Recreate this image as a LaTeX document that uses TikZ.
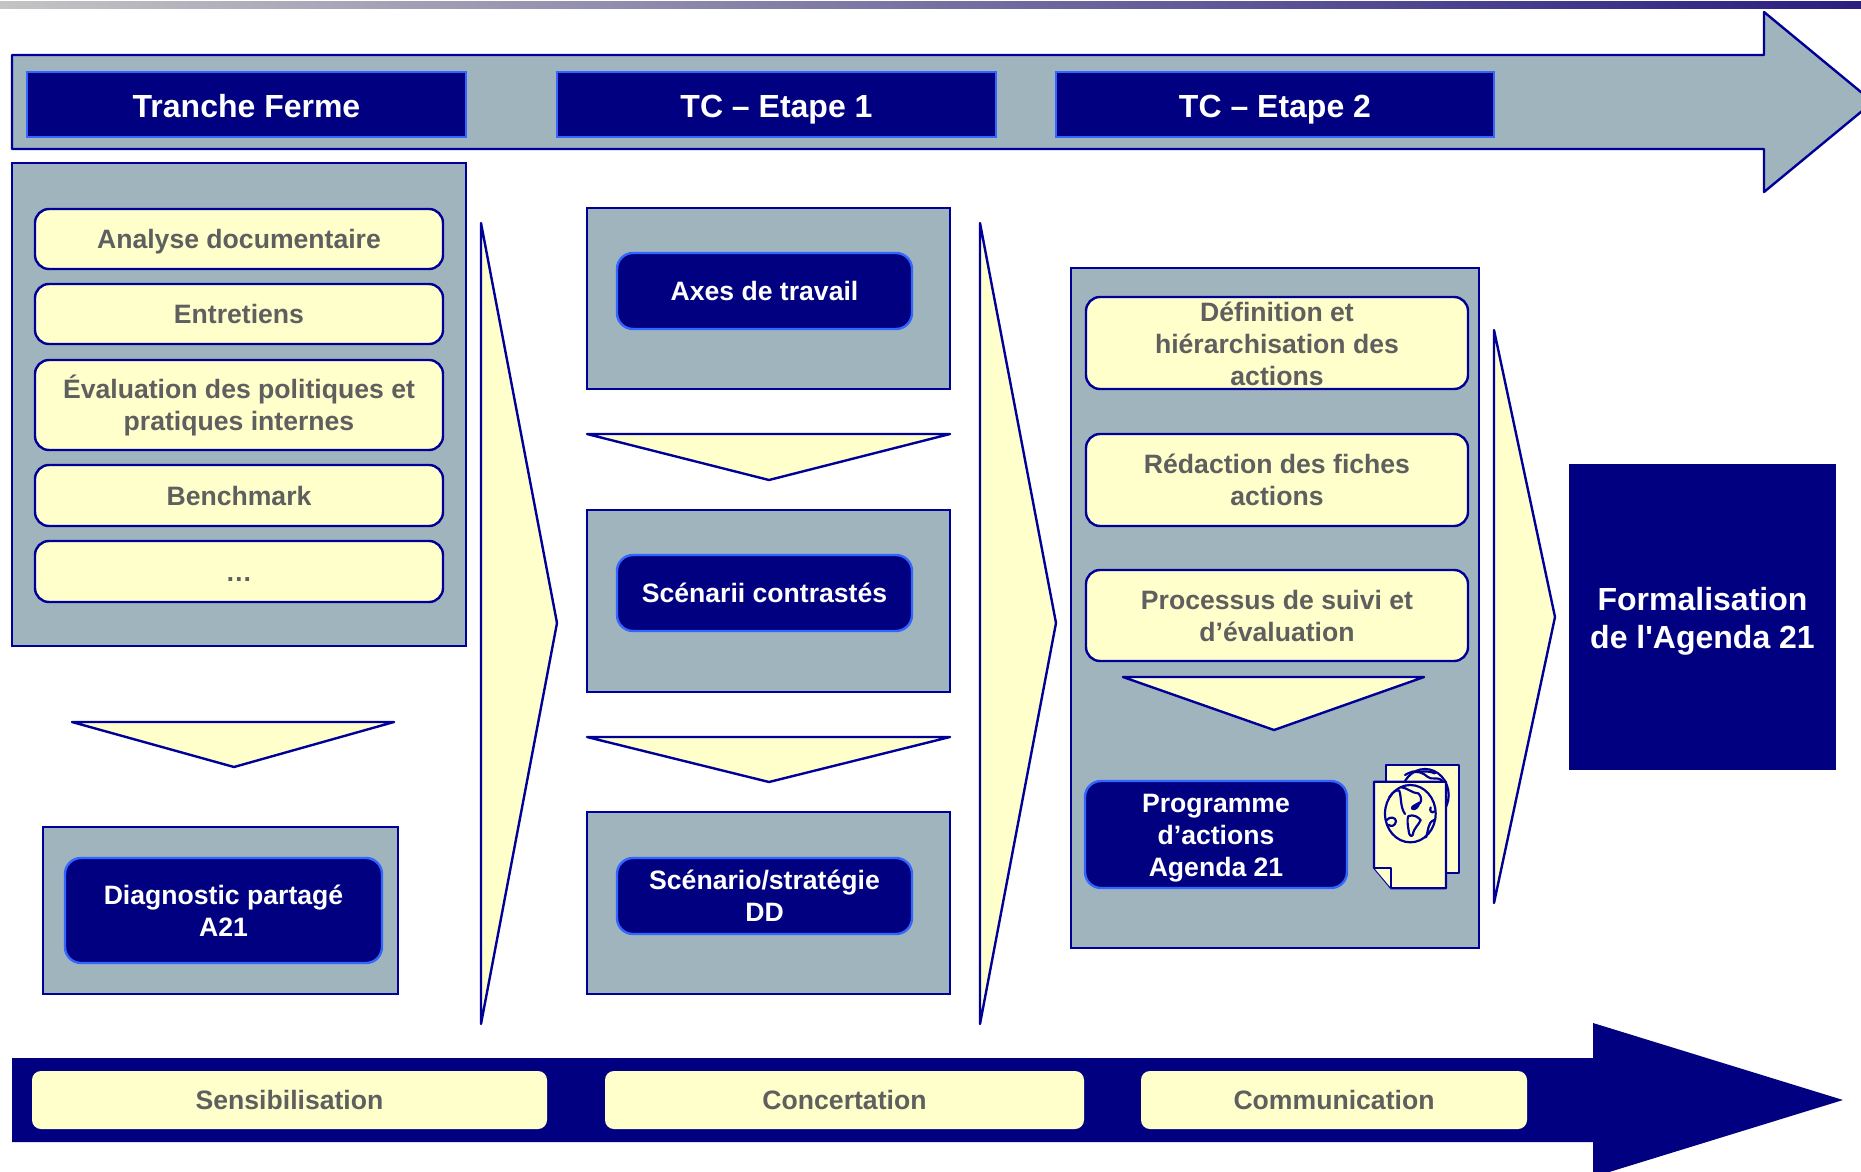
\documentclass[tikz,border=0pt]{standalone}
\usepackage{fontspec}
\setmainfont{Liberation Sans}[Ligatures=TeXOff]
\definecolor{navy}{HTML}{000080}
\definecolor{edge}{HTML}{000099}
\definecolor{panelc}{HTML}{9FB4BC}
\definecolor{cream}{HTML}{FFFFCC}
\definecolor{greytext}{HTML}{5F5F5F}
\definecolor{glow}{HTML}{3366FF}
\definecolor{barleft}{HTML}{C4C4C4}
\definecolor{barright}{HTML}{2A1E80}
\newcommand{\linestrut}{\rule[-.225em]{0pt}{1.165em}}
\newcommand{\boxat}[7]{%
  \pgfmathsetmacro\bw{#5-#3}\pgfmathsetmacro\bh{#6-#4}%
  \node[#2,minimum width=\bw pt,minimum height=\bh pt] (#1) at ({(#3+#5)/2},{(#4+#6)/2}) {\linestrut#7\linestrut};}
\tikzset{
  basebox/.style={rectangle,inner sep=0pt,outer sep=0pt,align=center,font=\bfseries\fontsize{26.6}{32}\selectfont},
  panel/.style={basebox,draw=edge,fill=panelc,line width=2.4pt},
  head/.style={basebox,draw=glow,fill=navy,text=white,line width=2.4pt,font=\bfseries\fontsize{32}{37}\selectfont},
  item/.style={basebox,draw=edge,fill=cream,text=greytext,line width=2.4pt,rounded corners=14pt},
  result/.style={basebox,draw=glow,fill=navy,text=white,line width=2.4pt,rounded corners=16pt},
  pill/.style={basebox,fill=cream,text=greytext,rounded corners=9pt},
  final/.style={basebox,fill=navy,text=white,font=\bfseries\fontsize{32}{37}\selectfont},
  chev/.style={draw=edge,fill=cream,line width=2.4pt,line join=round},
  sheet/.style={draw=edge,fill=cream,line width=2.2pt,line join=round},
  land/.style={draw=edge,line width=2.2pt,line cap=round,line join=round}
}
\begin{document}
\begin{tikzpicture}[x=1pt,y=-1pt]
\useasboundingbox (0,0) rectangle (1861,1172);
\clip (0,0) rectangle (1861,1172);
% top gradient bar
\shade[left color=barleft,right color=barright] (0,2) rectangle (1861,9);
% top arrow
\draw[draw=edge,fill=panelc,line width=2.4pt,line join=round]
  (12,55) -- (1764,55) -- (1764,12) -- (1873,102) -- (1764,192) -- (1764,149) -- (12,149) -- cycle;
\boxat{h1}{head}{27}{72}{466}{137}{\raisebox{-2pt}{Tranche Ferme}}
\boxat{h2}{head}{557}{72}{996}{137}{\raisebox{-2pt}{TC – Etape 1}}
\boxat{h3}{head}{1056}{72}{1494}{137}{\raisebox{-2pt}{TC – Etape 2}}
% column 1
\boxat{p1}{panel}{12}{163}{466}{646}{}
\boxat{a1}{item}{35}{209}{443}{269}{Analyse documentaire}
\boxat{a2}{item}{35}{284}{443}{344}{Entretiens}
\boxat{a3}{item}{35}{360}{443}{450}{Évaluation des politiques et\\pratiques internes}
\boxat{a4}{item}{35}{465}{443}{526}{Benchmark}
\boxat{a5}{item}{35}{541}{443}{602}{…}
\draw[chev] (72,722) -- (394,722) -- (234,767) -- cycle;
\boxat{p2}{panel}{43}{827}{398}{994}{}
\boxat{r1}{result}{65}{858}{382}{963}{Diagnostic partagé\\A21}
\draw[chev] (481,223) -- (557,623) -- (481,1024) -- cycle;
% column 2
\boxat{p3}{panel}{587}{208}{950}{389}{}
\boxat{r2}{result}{617}{253}{912}{329}{Axes de travail}
\draw[chev] (587,434) -- (950,434) -- (769,480) -- cycle;
\boxat{p4}{panel}{587}{510}{950}{692}{}
\boxat{r3}{result}{617}{555}{912}{631}{Scénarii contrastés}
\draw[chev] (587,737) -- (950,737) -- (769,782) -- cycle;
\boxat{p5}{panel}{587}{812}{950}{994}{}
\boxat{r4}{result}{617}{858}{912}{934}{Scénario/stratégie\\DD}
\draw[chev] (980,223) -- (1056,623) -- (980,1024) -- cycle;
% column 3
\boxat{p6}{panel}{1071}{268}{1479}{948}{}
\boxat{b1}{item}{1086}{297}{1468}{389}{}
\node[basebox,text=greytext] (b1text) at (1277,343.5) {Définition et\\hiérarchisation des\\actions};
\boxat{b2}{item}{1086}{434}{1468}{526}{Rédaction des fiches\\actions}
\boxat{b3}{item}{1086}{570}{1468}{661}{Processus de suivi et\\d’évaluation}
\draw[chev] (1123,677) -- (1424,677) -- (1274,730) -- cycle;
\boxat{r5}{result}{1085}{781}{1347}{888}{Programme\\d’actions\\Agenda 21}
% document icon, in the coordinates of a 3x crop
\begin{scope}[shift={(1340,740)},x=0.33333pt,y=-0.33333pt]
\draw[sheet] (138,76) rectangle (358,398);
\draw[land] (255,165) ellipse [x radius=71,y radius=78];
\draw[land] (195,105) .. controls (215,92) and (240,90) .. (262,110) .. controls (275,122) and (290,108) .. (306,122);
\draw[land] (215,95) .. controls (235,100) and (255,88) .. (285,100);
\draw[sheet] (102,125) -- (318,125) -- (318,445) -- (154,445) -- (102,383) -- cycle;
\draw[sheet] (102,383) -- (154,383) -- (154,445);
\draw[land] (211,221) ellipse [x radius=76,y radius=86];
\draw[land] (148,172) .. controls (158,155) and (170,148) .. (178,152) .. controls (185,175) and (180,200) .. (195,222);
\draw[land] (185,142) .. controls (205,145) and (212,158) .. (235,160) .. controls (245,170) and (245,180) .. (240,190);
\draw[land,fill=edge] (238,188) .. controls (236,200) and (225,212) .. (216,206) .. controls (214,198) and (226,196) .. (238,188) -- cycle;
\draw[land] (205,228) .. controls (222,222) and (235,232) .. (242,240) .. controls (236,256) and (222,262) .. (218,285)
  .. controls (214,292) and (206,285) .. (206,272) .. controls (204,258) and (200,240) .. (205,228) -- cycle;
\draw[land] (140,240) .. controls (150,228) and (168,232) .. (168,244) .. controls (166,258) and (152,262) .. (146,254);
\draw[land] (272,202) .. controls (268,212) and (274,222) .. (284,214);
\draw[land] (282,240) .. controls (262,248) and (266,272) .. (258,292);
\end{scope}
\draw[chev] (1494,330) -- (1555,617) -- (1494,903) -- cycle;
\boxat{f}{final}{1569}{464}{1836}{770}{\raisebox{-1pt}{Formalisation}\\\raisebox{-1pt}{de l'Agenda 21}}
% bottom arrow
\fill[navy] (12,1058) -- (1593,1058) -- (1593,1023) -- (1843,1100) -- (1593,1177) -- (1593,1142) -- (12,1142) -- cycle;
\boxat{s1}{pill}{32}{1071}{547}{1129}{Sensibilisation}
\boxat{s2}{pill}{605}{1071}{1084}{1129}{Concertation}
\boxat{s3}{pill}{1141}{1071}{1527}{1129}{Communication}
\end{tikzpicture}
\end{document}
